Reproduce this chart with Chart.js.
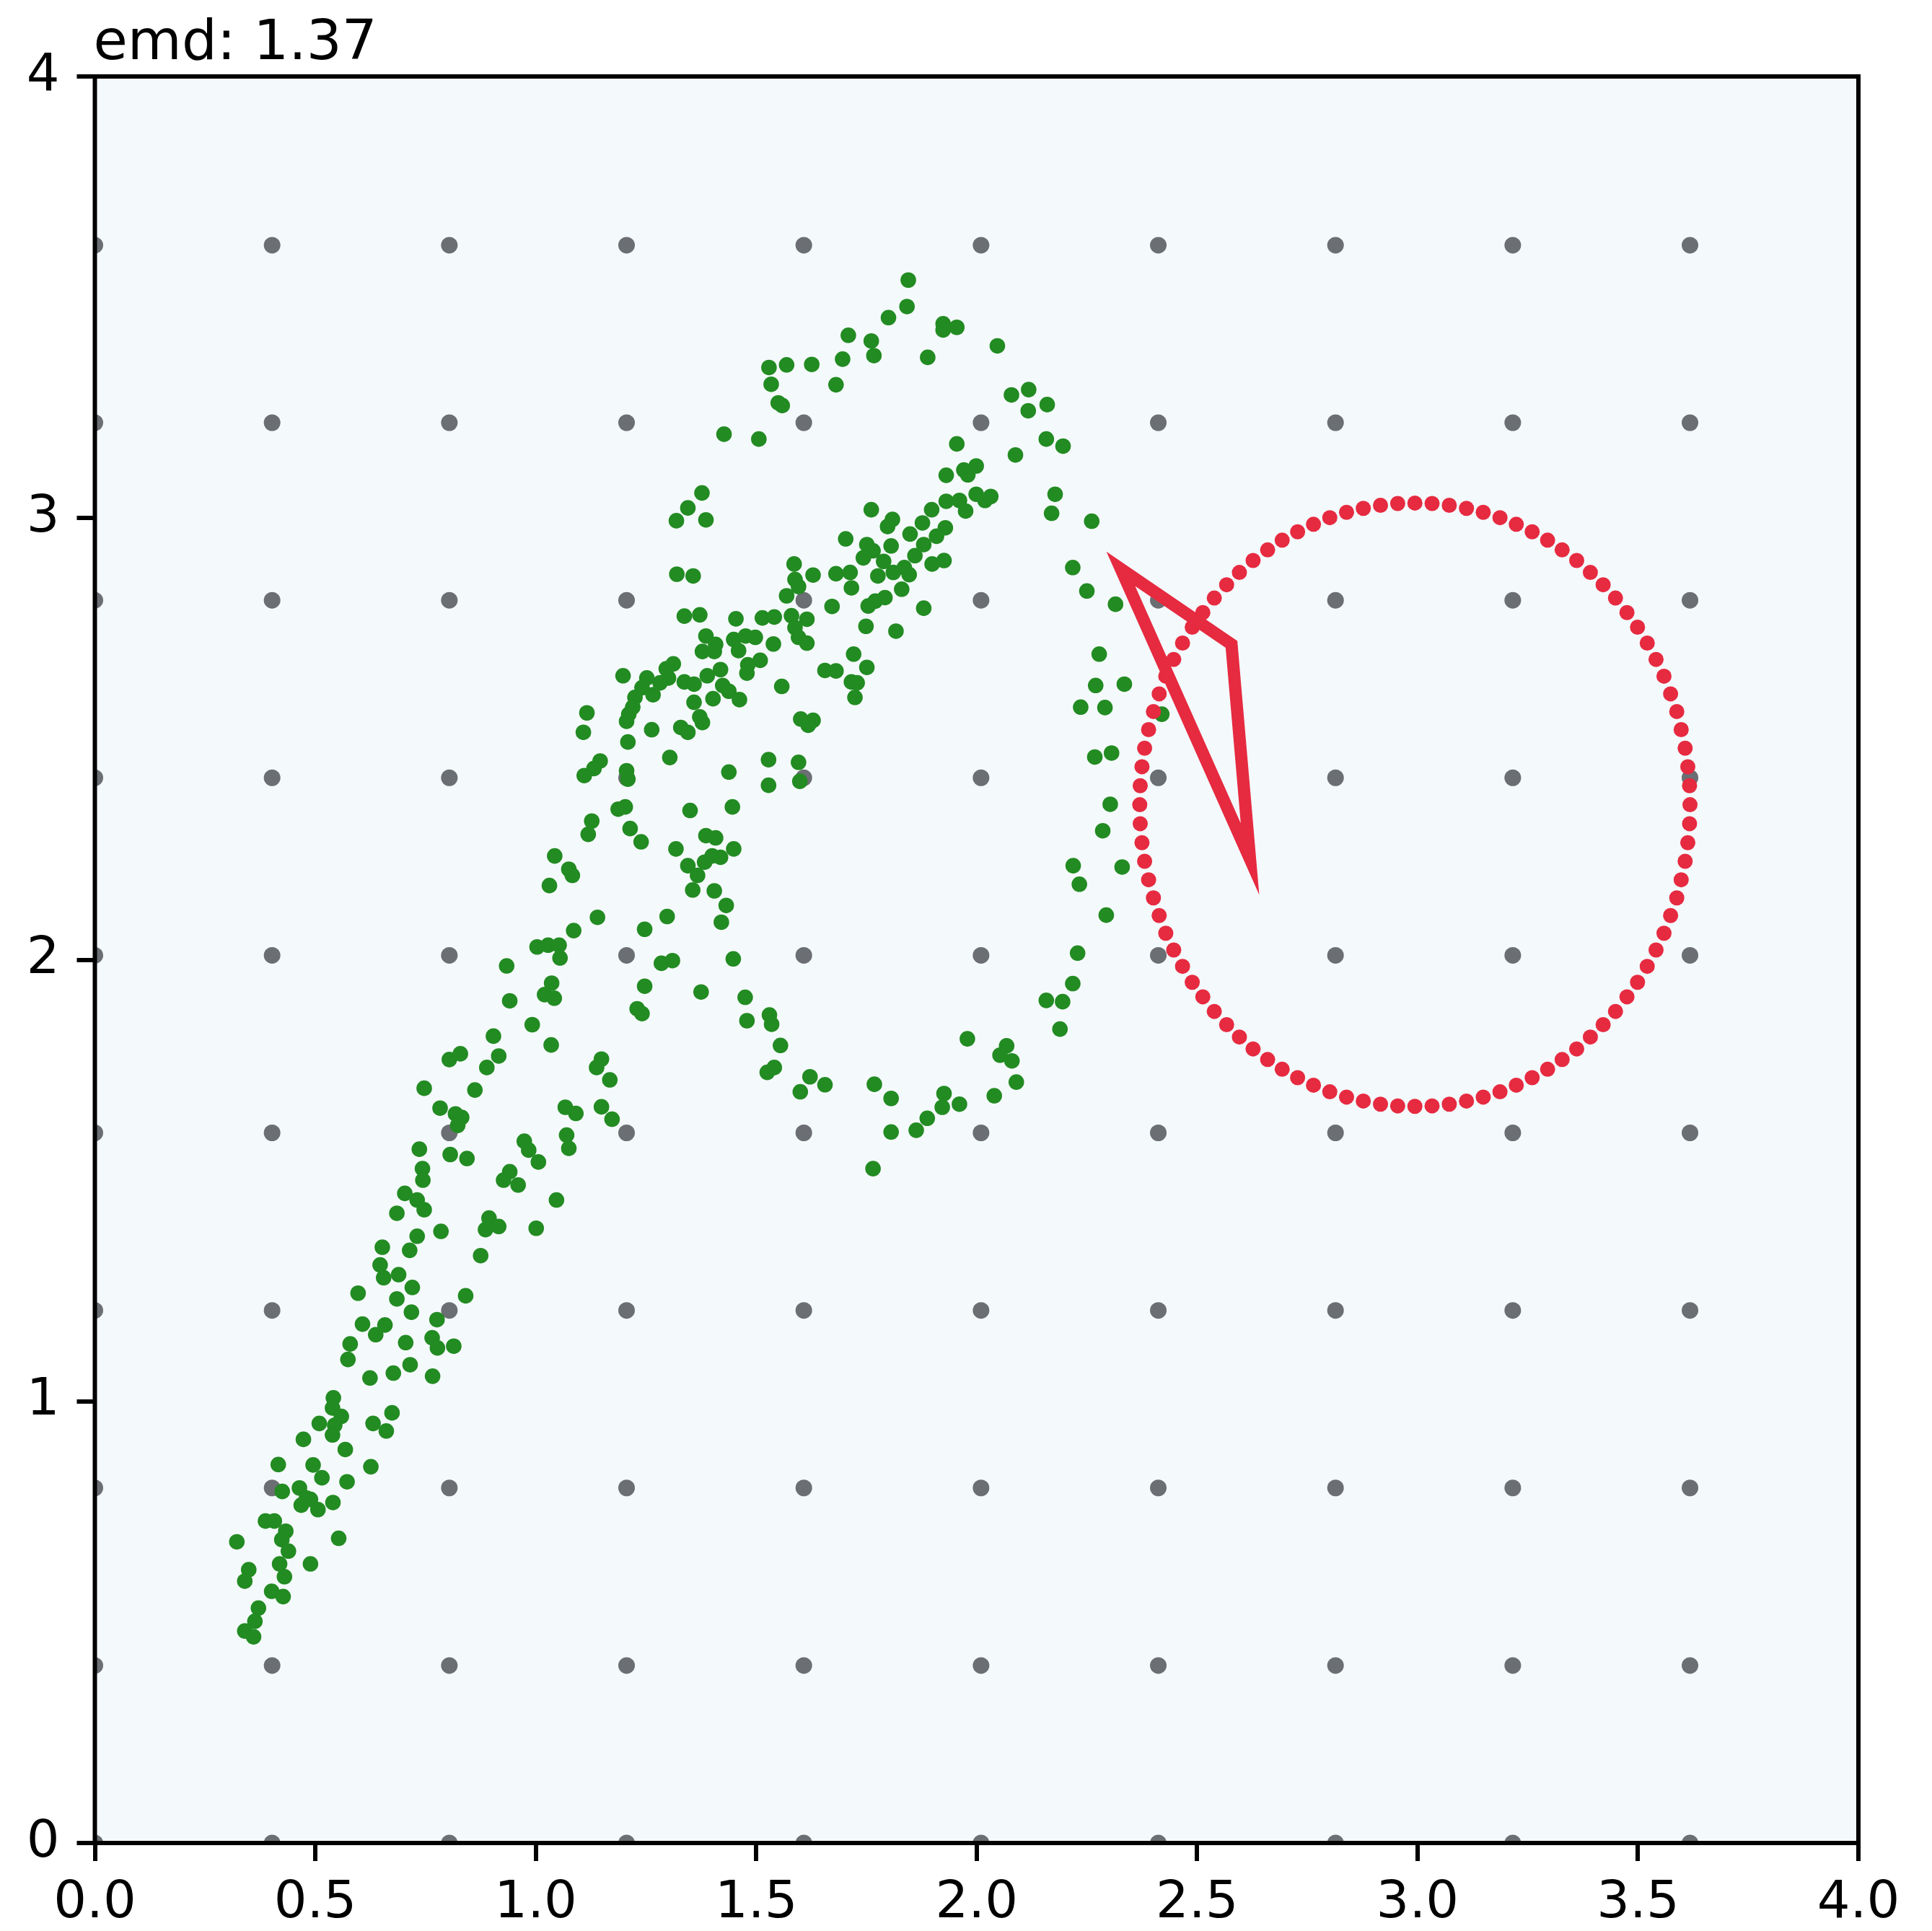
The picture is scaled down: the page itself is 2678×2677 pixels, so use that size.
<!DOCTYPE html>
<html>
<head>
<meta charset="utf-8">
<script src="https://cdn.jsdelivr.net/npm/chart.js@4.4.1/dist/chart.umd.min.js"></script>
<style>
  html, body { margin: 0; padding: 0; background: #fff; }
  canvas { display: block; }
</style>
</head>
<body>
<canvas id="plot" width="2678" height="2677"></canvas>
<script>
var titleText = 'emd: 1.37';

var xTicks = [0, 0.5, 1, 1.5, 2, 2.5, 3, 3.5, 4];
var xTickLabels = ['0.0', '0.5', '1.0', '1.5', '2.0', '2.5', '3.0', '3.5', '4.0'];
var yTicks = [0, 1, 2, 3, 4];
var yTickLabels = ['0', '1', '2', '3', '4'];

// gray reference lattice
var gridX = [0, 0.402, 0.804, 1.206, 1.608, 2.01, 2.412, 2.814, 3.216, 3.618];
var gridY = [0, 0.402, 0.804, 1.206, 1.608, 2.01, 2.412, 2.814, 3.216, 3.618];

// green sample points [x, y]
var greenPts = [
  [1.709,3.414],[1.761,3.401],[1.767,3.368],[1.529,3.341],[1.569,3.347],[1.626,3.348],[1.696,3.360],[1.534,3.303],
  [1.681,3.302],[1.550,3.261],[1.559,3.255],[1.427,3.190],[1.506,3.179],[1.377,3.057],[1.345,3.023],[1.319,2.994],
  [1.386,2.996],[1.761,3.019],[1.703,2.953],[1.751,2.940],[1.765,2.926],[1.743,2.910],[1.586,2.896],

  [1.845,3.539],[1.842,3.479],[1.800,3.454],[1.924,3.440],[1.955,3.432],[1.924,3.426],[1.889,3.364],[2.047,3.390],
  [2.079,3.279],[2.118,3.291],[2.117,3.243],[2.160,3.257],[1.955,3.168],[2.158,3.179],[2.196,3.163],[2.088,3.143],
  [1.931,3.097],[1.971,3.109],[1.999,3.118],[1.980,3.098],[2.178,3.054],[2.170,3.011],[2.261,2.993],[1.931,3.038],
  [1.961,3.040],[1.975,3.016],[1.999,3.054],[2.032,3.049],[2.019,3.040],[1.898,3.019],[1.877,2.989],[1.809,2.997],
  [1.798,2.981],[1.929,2.978],[1.849,2.964],[1.909,2.959],[1.806,2.937],[1.880,2.940],[1.860,2.915],[1.926,2.904],
  [1.899,2.896],[1.789,2.902],[1.836,2.888],[2.218,2.888],

  [1.320,2.873],[1.357,2.869],[1.588,2.861],[1.629,2.871],[1.596,2.845],[1.681,2.874],[1.713,2.877],[1.776,2.869],
  [1.716,2.842],[1.569,2.824],[1.672,2.800],[1.754,2.801],[1.770,2.812],[1.749,2.755],[1.337,2.778],[1.372,2.781],
  [1.454,2.772],[1.514,2.774],[1.541,2.776],[1.580,2.779],[1.615,2.771],[1.588,2.752],[1.596,2.730],[1.615,2.717],
  [1.539,2.715],[1.386,2.733],[1.408,2.714],[1.378,2.698],[1.405,2.698],[1.449,2.725],[1.476,2.733],[1.498,2.730],
  [1.460,2.700],[1.509,2.678],[1.481,2.668],[1.479,2.649],[1.721,2.692],[1.751,2.662],[1.656,2.655],[1.681,2.654],
  [1.716,2.629],[1.729,2.627],[1.724,2.594],[1.558,2.619],[1.198,2.643],[1.312,2.670],[1.296,2.659],[1.301,2.638],
  [1.282,2.627],[1.252,2.638],[1.241,2.616],[1.266,2.600],[1.225,2.594],[1.220,2.572],[1.211,2.556],[1.206,2.540],
  [1.337,2.629],[1.359,2.624],[1.389,2.643],[1.419,2.657],[1.424,2.621],[1.438,2.608],[1.462,2.589],[1.359,2.583],
  [1.402,2.591],[1.372,2.550],[1.378,2.537],[1.263,2.521],[1.329,2.526],[1.345,2.515],[1.116,2.559],[1.108,2.515],
  [1.209,2.493],[1.304,2.458],[1.146,2.450],[1.132,2.433],[1.110,2.417],[1.206,2.428],[1.209,2.409],[1.438,2.425],
  [1.528,2.453],[1.528,2.395],[1.596,2.447],[1.599,2.404],[1.601,2.545],[1.629,2.542],[1.618,2.531],[1.187,2.341],
  [1.203,2.346],[1.350,2.338],[1.446,2.346],[1.127,2.314],[1.119,2.284],[1.214,2.297],[1.239,2.267],[1.386,2.281],
  [1.408,2.276],[1.318,2.251],[1.449,2.251],[1.400,2.235],[1.419,2.232],[1.383,2.221],[1.345,2.213],[1.367,2.191],
  [1.075,2.205],[1.083,2.191],

  [1.811,2.877],[1.847,2.872],[1.830,2.839],[1.792,2.820],[1.880,2.796],[1.817,2.744],[2.250,2.835],[2.315,2.805],
  [2.278,2.692],[2.270,2.621],[2.335,2.624],[2.236,2.572],[2.291,2.571],[2.420,2.556],[2.268,2.459],[2.306,2.468],
  [2.303,2.352],[2.286,2.292],[2.219,2.213],[2.330,2.210],

  [1.356,2.158],[1.405,2.156],[1.432,2.123],[1.421,2.085],[1.140,2.096],[1.086,2.066],[1.247,2.069],[1.298,2.098],
  [1.285,1.992],[1.310,1.998],[1.448,2.002],[1.247,1.940],[1.375,1.927],[1.475,1.915],[1.230,1.889],[1.241,1.878],
  [1.479,1.862],[1.530,1.875],[1.535,1.854],[1.555,1.806],[1.149,1.775],[1.138,1.756],[1.168,1.728],[1.525,1.745],
  [1.541,1.756],[1.622,1.735],[1.600,1.701],[1.656,1.717],[1.768,1.718],[1.067,1.666],[1.091,1.652],[1.149,1.667],
  [1.173,1.639],[1.070,1.603],[1.075,1.573],[1.765,1.527],

  [2.233,2.171],[2.294,2.101],[2.229,2.015],[2.218,1.946],[2.158,1.908],[2.195,1.905],[2.189,1.843],[1.979,1.821],
  [2.068,1.805],[2.053,1.784],[2.080,1.771],[2.090,1.723],[2.040,1.692],[1.806,1.686],[1.926,1.697],[1.922,1.666],
  [1.961,1.673],[1.888,1.641],[1.863,1.614],[1.806,1.610],

  [1.043,2.235],[1.031,2.168],[1.003,2.029],[1.028,2.033],[1.053,2.033],[1.055,2.004],[0.934,1.986],[0.941,1.907],
  [1.036,1.947],[1.020,1.921],[1.042,1.913],[0.992,1.853],[1.035,1.807],[0.904,1.827],[0.916,1.782],[0.889,1.756],
  [0.804,1.774],[0.829,1.787],[0.747,1.709],[0.862,1.705],[0.783,1.664],[0.818,1.651],[0.832,1.643],[0.823,1.625],
  [0.736,1.571],[0.806,1.559],[0.844,1.550],[0.743,1.527],[0.744,1.501],[0.974,1.589],[0.984,1.569],[1.006,1.542],
  [0.941,1.520],[0.927,1.501],[0.960,1.490],[0.703,1.471],[0.731,1.456],[0.747,1.434],[0.685,1.426],[1.047,1.456],
  [0.894,1.415],[0.886,1.389],[0.916,1.396],[1.001,1.392],[0.785,1.385],[0.731,1.374],

  [0.714,1.342],[0.652,1.349],[0.875,1.330],[0.647,1.309],[0.655,1.280],[0.689,1.287],[0.720,1.258],[0.597,1.245],
  [0.685,1.232],[0.841,1.239],[0.718,1.202],[0.607,1.175],[0.658,1.173],[0.637,1.151],[0.776,1.185],[0.579,1.130],
  [0.574,1.095],[0.705,1.133],[0.765,1.144],[0.777,1.121],[0.814,1.125],[0.715,1.083],[0.677,1.064],[0.624,1.053],
  [0.766,1.057],[0.541,1.008],[0.539,0.985],[0.559,0.966],[0.544,0.946],[0.539,0.924],[0.509,0.950],[0.473,0.914],
  [0.674,0.974],[0.631,0.950],[0.661,0.933],[0.568,0.891],[0.626,0.852],[0.416,0.857],[0.495,0.856],[0.515,0.827],
  [0.572,0.818],[0.425,0.796],[0.464,0.804],[0.480,0.781],[0.489,0.778],[0.468,0.765],[0.506,0.755],[0.540,0.771],
  [0.387,0.729],[0.407,0.729],[0.433,0.706],[0.424,0.687],[0.439,0.661],[0.553,0.690],[0.322,0.682],[0.419,0.632],
  [0.489,0.632],[0.349,0.619],[0.340,0.593],[0.430,0.603],[0.401,0.570],[0.427,0.558],[0.371,0.532],[0.363,0.502],
  [0.340,0.480],[0.360,0.467]
];

// red dotted ring [x, y]
var ringPts = [
  [3.618,2.351],[3.617,2.394],[3.613,2.437],[3.607,2.479],[3.598,2.521],[3.588,2.562],[3.574,2.602],[3.559,2.642],
  [3.541,2.680],[3.521,2.717],[3.499,2.753],[3.475,2.786],[3.449,2.819],[3.421,2.849],[3.392,2.877],[3.361,2.904],
  [3.328,2.928],[3.295,2.950],[3.260,2.969],[3.224,2.986],[3.187,3.001],[3.149,3.013],[3.111,3.022],[3.072,3.029],
  [3.033,3.033],[2.994,3.034],[2.955,3.033],[2.916,3.029],[2.877,3.022],[2.839,3.013],[2.801,3.001],[2.764,2.986],
  [2.728,2.969],[2.693,2.950],[2.660,2.928],[2.627,2.904],[2.596,2.877],[2.567,2.849],[2.539,2.819],[2.513,2.786],
  [2.489,2.753],[2.467,2.717],[2.447,2.680],[2.429,2.642],[2.414,2.602],[2.401,2.562],[2.390,2.521],[2.381,2.479],
  [2.375,2.437],[2.371,2.394],[2.370,2.351],[2.371,2.308],[2.375,2.265],[2.381,2.223],[2.390,2.181],[2.401,2.140],
  [2.414,2.100],[2.429,2.060],[2.447,2.022],[2.467,1.985],[2.489,1.949],[2.513,1.916],[2.539,1.883],[2.567,1.853],
  [2.596,1.825],[2.627,1.798],[2.660,1.774],[2.693,1.752],[2.728,1.733],[2.764,1.716],[2.801,1.701],[2.839,1.689],
  [2.877,1.680],[2.916,1.673],[2.955,1.669],[2.994,1.668],[3.033,1.669],[3.072,1.673],[3.111,1.680],[3.149,1.689],
  [3.187,1.701],[3.224,1.716],[3.260,1.733],[3.295,1.752],[3.328,1.774],[3.361,1.798],[3.392,1.825],[3.421,1.853],
  [3.449,1.883],[3.475,1.916],[3.499,1.949],[3.521,1.985],[3.541,2.022],[3.559,2.060],[3.574,2.100],[3.588,2.140],
  [3.598,2.181],[3.607,2.223],[3.613,2.265],[3.617,2.308]
];

// red triangle corners
var triX = [2.327, 2.578, 2.620];
var triY = [2.885, 2.714, 2.228];

var RED = '#e62a40';
var GREEN = '#228b22';
var GRAY = '#6b6e73';

function pairs(list) {
  return list.map(function (p) { return {x: p[0], y: p[1]}; });
}

var gridPoints = [];
gridY.forEach(function (y) {
  gridX.forEach(function (x) { gridPoints.push({x: x, y: y}); });
});

// closed outline: go round once more so the first corner gets a proper join
var triPoints = [];
for (var i = 0; i < triX.length + 2; i++) {
  var k = i % triX.length;
  triPoints.push({x: triX[k], y: triY[k]});
}

var frame = {
  id: 'frame',
  beforeDraw: function (chart) {
    var ctx = chart.ctx, a = chart.chartArea;
    ctx.save();
    ctx.fillStyle = '#ffffff';
    ctx.fillRect(0, 0, chart.width, chart.height);
    ctx.fillStyle = '#f4f9fb';
    ctx.fillRect(a.left, a.top, a.right - a.left, a.bottom - a.top);
    ctx.restore();
  },
  afterDraw: function (chart) {
    var ctx = chart.ctx, a = chart.chartArea;
    ctx.save();
    ctx.strokeStyle = '#000';
    ctx.lineWidth = 6;
    ctx.lineJoin = 'miter';
    ctx.strokeRect(a.left, a.top, a.right - a.left, a.bottom - a.top);
    ctx.fillStyle = '#000';
    ctx.font = '77px "DejaVu Sans"';
    ctx.textAlign = 'left';
    ctx.textBaseline = 'alphabetic';
    ctx.fillText(titleText, a.left - 2, 82);
    ctx.restore();
  }
};

function noPad(s) {
  s.paddingLeft = 0; s.paddingRight = 0; s.paddingTop = 0; s.paddingBottom = 0;
}

var tickFont = {family: 'DejaVu Sans', size: 72};
var tickGrid = {
  drawOnChartArea: false, drawTicks: true, tickLength: 25,
  tickWidth: 6, tickColor: '#000', color: '#000', lineWidth: 6
};

new Chart(document.getElementById('plot').getContext('2d'), {
  type: 'scatter',
  data: {
    datasets: [
      {
        label: 'triangle', data: triPoints, showLine: true,
        borderColor: RED, borderWidth: 17, borderJoinStyle: 'miter',
        pointRadius: 0, fill: false, order: 0, clip: 0
      },
      {
        label: 'ring', data: pairs(ringPts),
        pointRadius: 10.5, pointBackgroundColor: RED, pointBorderWidth: 0,
        order: 1, clip: 0
      },
      {
        label: 'samples', data: pairs(greenPts),
        pointRadius: 10.8, pointBackgroundColor: GREEN, pointBorderWidth: 0,
        order: 2, clip: 0
      },
      {
        label: 'lattice', data: gridPoints,
        pointRadius: 11.5, pointBackgroundColor: GRAY, pointBorderWidth: 0,
        order: 3, clip: 0
      }
    ]
  },
  options: {
    responsive: false,
    animation: false,
    devicePixelRatio: 1,
    events: [],
    layout: { padding: {left: 0, right: 102, top: 106, bottom: 0} },
    plugins: {
      legend: {display: false},
      tooltip: {enabled: false},
      title: {display: false}
    },
    scales: {
      x: {
        type: 'linear', min: 0, max: 4,
        afterBuildTicks: function (s) {
          s.ticks = xTicks.map(function (v) { return {value: v}; });
        },
        afterFit: function (s) { s.height = 122; noPad(s); },
        ticks: {
          callback: function (v, i) { return xTickLabels[i]; },
          padding: 16, color: '#000', font: tickFont,
          maxRotation: 0, autoSkip: false
        },
        grid: tickGrid,
        border: {display: false}
      },
      y: {
        type: 'linear', min: 0, max: 4,
        afterBuildTicks: function (s) {
          s.ticks = yTicks.map(function (v) { return {value: v}; });
        },
        afterFit: function (s) { s.width = 131.5; noPad(s); },
        ticks: {
          callback: function (v, i) { return yTickLabels[i]; },
          padding: 24, color: '#000', font: tickFont, autoSkip: false
        },
        grid: tickGrid,
        border: {display: false}
      }
    }
  },
  plugins: [frame]
});
</script>
</body>
</html>
